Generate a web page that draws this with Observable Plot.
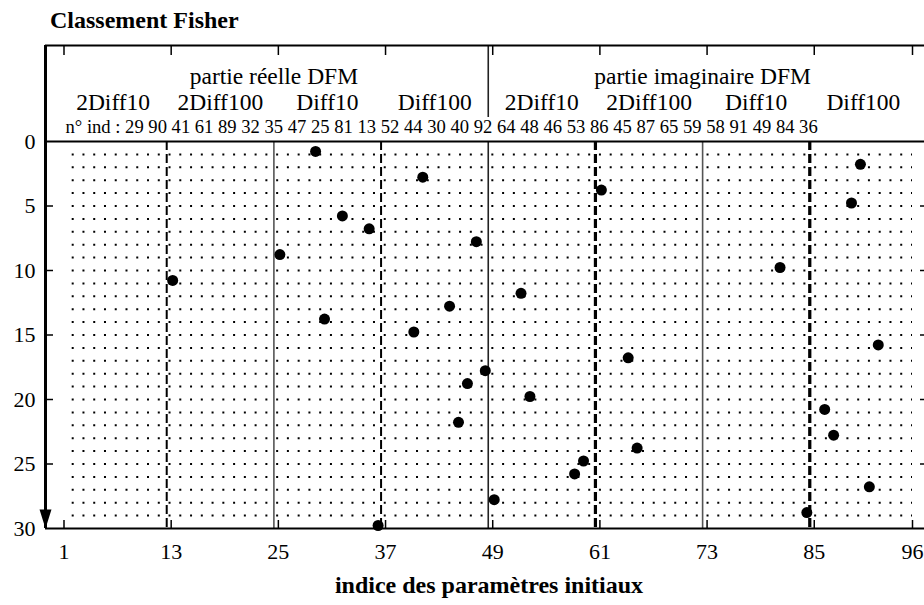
<!DOCTYPE html>
<html><head><meta charset="utf-8">
<script src="https://cdn.jsdelivr.net/npm/d3@7"></script>
<script src="https://cdn.jsdelivr.net/npm/@observablehq/plot@0.6"></script>
<style>
body{margin:0;background:#fff;font-family:"Liberation Serif","Times New Roman",serif;}
#title{height:40px;line-height:40px;padding-left:50px;font-weight:bold;font-size:24px;color:#000;}
</style></head><body>
<div id="title"></div>
<div id="chart"></div>
<script>
// ---- data ----
const title = "Classement Fisher";
const xTitle = "indice des paramètres initiaux";
const partLabels = ["partie réelle DFM", "partie imaginaire DFM"];
const groupLabels = ["2Diff10", "2Diff100", "Diff10", "Diff100", "2Diff10", "2Diff100", "Diff10", "Diff100"];
const indPrefix = "n° ind :";
// parameter indices listed in Fisher rank order (rank 1 ... 30)
const rankedInd = [29, 90, 41, 61, 89, 32, 35, 47, 25, 81, 13, 52, 44, 30, 40, 92, 64, 48, 46, 53, 86, 45, 87, 65, 59, 58, 91, 49, 84, 36];
const xTicks = [1, 13, 25, 37, 49, 61, 73, 85, 96];
const yTicks = [0, 5, 10, 15, 20, 25, 30];
const groupSize = 12;
const nParams = 96;
const maxRank = 30;

// ---- derived tables ----
const points = rankedInd.map((ind, i) => ({ind, rank: i + 1}));
const gridRows = d3.range(1, maxRank);
const separators = d3.range(1, nParams / groupSize).map(k => ({k, x: k * groupSize + 0.5}));
const groups = groupLabels.map((label, i) => ({label, x: i * groupSize + (groupSize + 1) / 2}));
const parts = partLabels.map((label, i) => ({label, x: i * nParams / 2 + (nParams / 2 + 1) / 2}));
const indLine = indPrefix + " " + rankedInd.join(" ");

// ---- layout ----
const W = 924, H = 560, mT = 5, mB = 72, mL = 45, mR = 0;
const headerPx = 96;
const plotPx = H - mT - mB;
const yTop = -headerPx * maxRank / (plotPx - headerPx);
const pxPerY = plotPx / (maxRank - yTop);
const xLeft = -1.071, xRight = 97.343;
const pxPerX = (W - mL - mR) / (xRight - xLeft);
const innerY = yTicks.filter(d => d > 0 && d < maxRank);

const arrowSymbol = {draw(ctx) { ctx.moveTo(-6, -19); ctx.lineTo(6, -19); ctx.lineTo(0, 0); ctx.closePath(); }};

document.getElementById("title").textContent = title;

const chart = Plot.plot({
  width: W, height: H,
  marginTop: mT, marginBottom: mB, marginLeft: mL, marginRight: mR,
  style: {fontFamily: "'Liberation Serif', 'Times New Roman', serif", fontSize: "22px", background: "white", color: "black"},
  x: {domain: [xLeft, xRight]},
  y: {domain: [yTop, maxRank], reverse: true},
  marks: [
    // dotted grid rows
    Plot.ruleY(gridRows, {x1: 1, x2: nParams, stroke: "black", strokeWidth: 2, strokeDasharray: "2,8.76", strokeDashoffset: 2.56}),
    // group separators
    Plot.ruleX(separators.filter(d => d.k % 2 === 1), {x: "x", y1: 0, y2: maxRank, stroke: "black",
      strokeWidth: 2, strokeDasharray: "9,4"}),
    Plot.ruleX(separators.filter(d => d.k % 2 === 1 && d.k > 4), {x: "x", y1: 0, y2: maxRank, stroke: "black",
      strokeWidth: 3.2, strokeDasharray: "9,4"}),
    Plot.ruleX(separators.filter(d => d.k === 2 || d.k === 6), {x: "x", y1: 0, y2: maxRank, stroke: "#555", strokeWidth: 1.6}),
    Plot.ruleX(separators.filter(d => d.k === 4), {x: "x", y1: yTop, y2: -24 / pxPerY, stroke: "#222", strokeWidth: 1.6}),
    Plot.ruleX(separators.filter(d => d.k === 4), {x: "x", y1: 0, y2: maxRank, stroke: "#222", strokeWidth: 1.6}),
    // frame
    Plot.ruleY([yTop], {stroke: "black", strokeWidth: 2}),
    Plot.ruleY([0], {stroke: "black", strokeWidth: 2}),
    Plot.ruleY([maxRank], {stroke: "black", strokeWidth: 2}),
    Plot.ruleX([xLeft], {y1: yTop, y2: maxRank, stroke: "black", strokeWidth: 3}),
    // ticks
    Plot.ruleX(xTicks, {y1: yTop, y2: yTop + 10 / pxPerY, stroke: "black", strokeWidth: 1.5}),
    Plot.ruleX(xTicks, {y1: maxRank - 8 / pxPerY, y2: maxRank, stroke: "black", strokeWidth: 1.5}),
    Plot.ruleY(innerY, {x1: xLeft, x2: xLeft + 8 / pxPerX, stroke: "black", strokeWidth: 1.5}),
    Plot.ruleY(innerY, {x1: xRight - 4 / pxPerX, x2: xRight, stroke: "black", strokeWidth: 1.5}),
    // axis labels
    Plot.axisY(yTicks, {tickSize: 0, tickPadding: 10, fontSize: 22, label: null}),
    Plot.axisX(xTicks, {anchor: "bottom", tickSize: 0, tickPadding: 15, fontSize: 22, label: null}),
    // arrow at bottom of y axis
    Plot.dot([0], {frameAnchor: "bottom-left", symbol: arrowSymbol, r: 6, fill: "black", stroke: "none"}),
    // Fisher ranking points
    Plot.dot(points, {x: "ind", y: "rank", r: 5.5, fill: "black", stroke: "none", dx: 1.5, dy: -3}),
    // header texts
    Plot.text(parts, {x: "x", text: "label", frameAnchor: "top", lineAnchor: "bottom", dy: 38, fontSize: 23.5}),
    Plot.text(groups, {x: "x", text: "label", frameAnchor: "top", lineAnchor: "bottom", dy: 64, fontSize: 23.5}),
    Plot.text([indLine], {x: 1, text: d => d, frameAnchor: "top", lineAnchor: "bottom", textAnchor: "start", dx: 1.5, dy: 87, fontSize: 18.6}),
    // x title
    Plot.text([xTitle], {text: d => d, frameAnchor: "bottom", lineAnchor: "bottom", dx: 4, dy: 64, fontSize: 24, fontWeight: "bold"})
  ]
});
document.getElementById("chart").appendChild(chart);
</script>
</body></html>
